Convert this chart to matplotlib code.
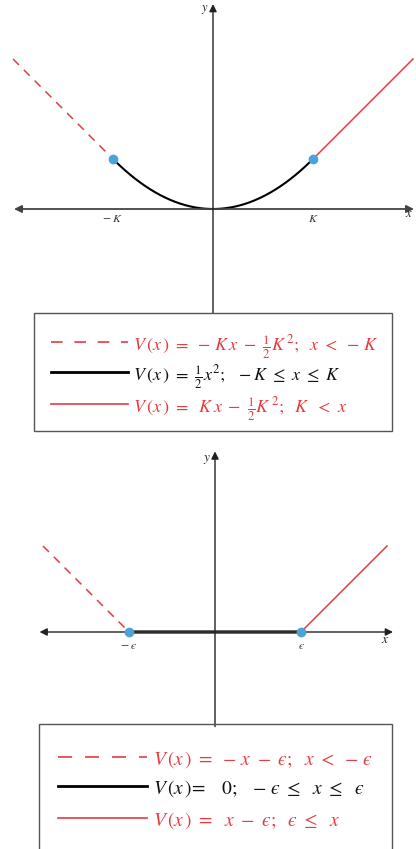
import numpy as np
import matplotlib
matplotlib.use("Agg")
import matplotlib.pyplot as plt
from matplotlib.patches import Rectangle
from matplotlib.lines import Line2D

plt.rcParams['mathtext.fontset'] = 'stix'
plt.rcParams['font.family'] = ['Liberation Serif', 'DejaVu Serif']

# ---------------- data ----------------
K = 1.0
x_min, x_max = -2.0, 2.0
eps = 1.0
# sample x positions for the piecewise potentials
x_quad = np.linspace(-K, K, 201)
x_left_K = [x_min, -K]
x_right_K = [K, x_max]
x_left_e = [x_min, -eps]
x_mid_e = [-eps, eps]
x_right_e = [eps, x_max]

def V_huber(x):
    x = np.asarray(x, dtype=float)
    return np.where(x < -K, -K * x - 0.5 * K**2,
                    np.where(x > K, K * x - 0.5 * K**2, 0.5 * x**2))

def V_eps(x):
    x = np.asarray(x, dtype=float)
    return np.where(x < -eps, -x - eps, np.where(x > eps, x - eps, 0.0))

E = '\u03f5'  # lunate epsilon
top_ticks = [-K, K]
top_tick_labels = [r'$-\ K$', r'$K$']
bot_ticks = [-eps, eps]
bot_tick_labels = [r'$-\ ' + E + '$', '$' + E + '$']

top_legend = [r'$V\,(x\,)\ =\ -\,K\,x\ -\ \frac{1}{2}K^{\,2};\ \ x\ <\ -\,K$',
              r'$V\,(x\,)\ =\ \frac{1}{2}x^2;\ \ -K\ \leq\ x\ \leq\ K$',
              r'$V\,(x\,)\ =\ \ K\,x\ -\ \frac{1}{2}K^{\,2};\ \ K\ \ <\ x$']
bot_legend = [r'$V\,(x\,)\ =\ -\,x\ -\ ' + E + r';\ \ x\ <\ -\,' + E + '$',
              r'$V\,(x\,)\!=\ \ \ 0;\ \ -\,' + E + r'\ \leq\ \ x\ \leq\ \ ' + E + '$',
              r'$V\,(x\,)\ =\ \ x\ -\ ' + E + r';\ \ ' + E + r'\ \leq\ \ x$']

RED = '#e63b3f'
BLUE = '#4ba3da'
AX = '#222222'

W, H = 416, 849
fig = plt.figure(figsize=(W / 100, H / 100), dpi=100)

def add_px_axes(y_top, y_bot):
    return fig.add_axes([0, 1 - y_bot / H, 1, (y_bot - y_top) / H])

def arrow(ax, p0, p1, both=False, color=AX, lw=1.0):
    ax.annotate('', xy=p1, xytext=p0,
                arrowprops=dict(arrowstyle='<|-|>' if both else '-|>',
                                mutation_scale=11, color=color, lw=lw,
                                shrinkA=0, shrinkB=0))

# ---------------- top panel ----------------
ax1 = add_px_axes(0, 312)
s1 = 100.0
ax1.set_xlim(-213 / s1, (W - 213) / s1)
ax1.set_ylim(-(312 - 209) / s1, 209 / s1)
ax1.axis('off')
arrow(ax1, (-1.99, 0), (2.01, 0), both=True, color='#444444', lw=1.3)
arrow(ax1, (0, -1.04), (0, 2.05))
ax1.plot(x_left_K, V_huber(x_left_K), color=RED, lw=1.1, dashes=(5.5, 4.5))
ax1.plot(x_right_K, V_huber(x_right_K), color=RED, lw=1.1)
ax1.plot(x_quad, V_huber(x_quad), color='black', lw=1.5)
ax1.plot(top_ticks, V_huber(top_ticks), 'o', color=BLUE, ms=6, zorder=5)
for t, lab in zip(top_ticks, top_tick_labels):
    ax1.text(t, -0.1, lab, ha='center', va='center', fontsize=8.5, color='#333333')
ax1.text(1.96, -0.05, r'$x$', ha='center', va='center', fontsize=9, color=AX)
ax1.text(-0.08, 2.0, r'$y$', ha='center', va='center', fontsize=9, color=AX)

# ---------------- bottom panel ----------------
ax2 = add_px_axes(440, 724)
s2 = 86.0
ax2.set_xlim(-215 / s2, (W - 215) / s2)
ax2.set_ylim(-(724 - 632) / s2, (632 - 440) / s2)
ax2.axis('off')
arrow(ax2, (-2.04, 0), (2.07, 0), both=True)
arrow(ax2, (0, -1.1), (0, 2.1))
ax2.plot(x_left_e, V_eps(x_left_e), color=RED, lw=1.1, dashes=(5.5, 4.5))
ax2.plot(x_right_e, V_eps(x_right_e), color=RED, lw=1.1)
ax2.plot(x_mid_e, V_eps(x_mid_e), color='#444444', lw=2.6)
ax2.plot(bot_ticks, V_eps(bot_ticks), 'o', color=BLUE, ms=6, zorder=5)
for t, lab in zip(bot_ticks, bot_tick_labels):
    ax2.text(t, -0.16, lab, ha='center', va='center', fontsize=8.5, color='#333333')
ax2.text(1.98, -0.09, r'$x$', ha='center', va='center', fontsize=9.5, color=AX)
ax2.text(-0.09, 2.0, r'$y$', ha='center', va='center', fontsize=9.5, color=AX)

# ---------------- legends (figure pixel overlay) ----------------
ov = fig.add_axes([0, 0, 1, 1], zorder=10)
ov.set_xlim(0, W)
ov.set_ylim(H, 0)
ov.axis('off')
ov.patch.set_alpha(0)

def legend_box(x0, y0, x1, y1, rows, lx0, lx1, tx, texts, fs, dash):
    ov.add_patch(Rectangle((x0, y0), x1 - x0, y1 - y0, fill=False,
                           ec='#555555', lw=1.0, clip_on=False))
    styles = [dict(color=RED, lw=1.2, dashes=dash),
              dict(color='black', lw=2.0),
              dict(color=RED, lw=1.2)]
    colors = [RED, '#111111', RED]
    for y, st, txt, c in zip(rows, styles, texts, colors):
        ov.add_line(Line2D([lx0, lx1], [y, y], **st))
        ov.text(tx, y, txt, ha='left', va='center_baseline', fontsize=fs, color=c)

legend_box(34, 313, 392, 431, [342, 372, 404], 51, 128, 133, top_legend, 13, (7, 7))
legend_box(39, 724, 392, 870, [757, 786, 818], 58, 147, 153, bot_legend, 14, (8.4, 7.8))

fig.savefig('out.png', dpi=100)
